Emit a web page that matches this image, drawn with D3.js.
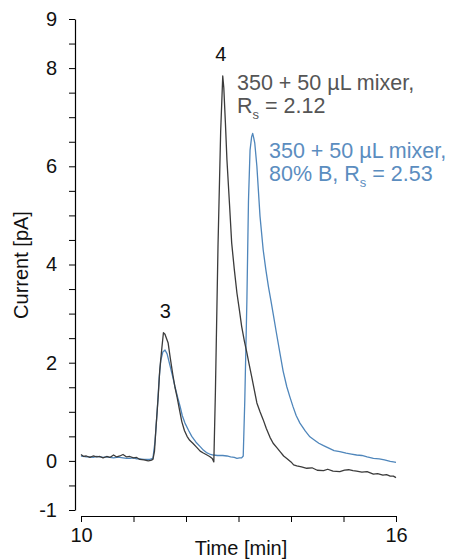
<!DOCTYPE html>
<html>
<head>
<meta charset="utf-8">
<script src="https://cdn.jsdelivr.net/npm/d3@7"></script>
<style>
  html, body { margin: 0; padding: 0; background: #fff; }
  svg { display: block; }
  text { font-family: "Liberation Sans", Arial, Helvetica, sans-serif; }
</style>
</head>
<body>
<svg id="chart" width="451" height="560"></svg>
<script>
// ---- data ----
const xTickValues = [10, 11, 12, 13, 14, 15, 16];
const xTickLabels = ["10", "", "", "", "", "", "16"];
const yTickValues = [-1, -0.5, 0, 0.5, 1, 1.5, 2, 2.5, 3, 3.5, 4, 4.5, 5, 5.5, 6, 6.5, 7, 7.5, 8, 8.5, 9];
const yLabelled = [-1, 0, 2, 4, 6, 8, 9];

const blackTime = [10.00, 10.05, 10.10, 10.17, 10.23, 10.30, 10.36, 10.42, 10.49, 10.55, 10.62, 10.68, 10.74, 10.80, 10.87, 10.93, 11.00, 11.06, 11.12, 11.20, 11.28, 11.33, 11.37, 11.40, 11.43, 11.47, 11.50, 11.54, 11.57, 11.60, 11.62, 11.66, 11.70, 11.75, 11.79, 11.83, 11.88, 11.92, 11.97, 12.02, 12.07, 12.13, 12.20, 12.27, 12.33, 12.40, 12.45, 12.50, 12.53, 12.56, 12.61, 12.66, 12.70, 12.72, 12.75, 12.78, 12.83, 12.87, 12.92, 12.97, 13.02, 13.06, 13.11, 13.16, 13.20, 13.25, 13.30, 13.35, 13.41, 13.47, 13.53, 13.60, 13.66, 13.73, 13.80, 13.86, 13.92, 14.00, 14.05, 14.11, 14.20, 14.30, 14.40, 14.50, 14.62, 14.70, 14.80, 14.93, 15.02, 15.10, 15.18, 15.25, 15.35, 15.45, 15.57, 15.65, 15.75, 15.82, 15.89, 15.95, 16.00];
const blackCurrent = [0.13, 0.09, 0.10, 0.07, 0.10, 0.08, 0.09, 0.06, 0.09, 0.07, 0.12, 0.08, 0.10, 0.13, 0.08, 0.09, 0.06, 0.07, 0.03, 0.02, 0.00, 0.01, 0.03, 0.20, 0.70, 1.30, 1.85, 2.30, 2.61, 2.58, 2.52, 2.40, 2.10, 1.75, 1.50, 1.30, 1.02, 0.80, 0.62, 0.50, 0.42, 0.36, 0.28, 0.20, 0.16, 0.12, 0.09, 0.05, -0.02, 1.40, 4.40, 6.70, 7.84, 7.60, 6.90, 6.13, 5.20, 4.44, 3.90, 3.42, 3.05, 2.74, 2.45, 2.20, 1.98, 1.72, 1.45, 1.18, 1.00, 0.84, 0.66, 0.48, 0.36, 0.27, 0.18, 0.10, 0.05, -0.02, -0.08, -0.10, -0.12, -0.15, -0.14, -0.19, -0.20, -0.17, -0.21, -0.22, -0.19, -0.18, -0.20, -0.21, -0.23, -0.22, -0.27, -0.26, -0.29, -0.28, -0.31, -0.31, -0.34];

const blueTime = [10.00, 10.05, 10.10, 10.17, 10.23, 10.30, 10.36, 10.42, 10.49, 10.55, 10.62, 10.68, 10.74, 10.80, 10.87, 10.93, 11.00, 11.06, 11.12, 11.20, 11.31, 11.37, 11.41, 11.45, 11.49, 11.52, 11.56, 11.60, 11.64, 11.70, 11.75, 11.79, 11.84, 11.89, 11.93, 11.98, 12.05, 12.11, 12.19, 12.27, 12.33, 12.39, 12.45, 12.52, 12.60, 12.70, 12.78, 12.85, 12.92, 12.97, 13.02, 13.06, 13.09, 13.12, 13.16, 13.19, 13.22, 13.25, 13.27, 13.29, 13.31, 13.35, 13.41, 13.47, 13.52, 13.57, 13.62, 13.66, 13.72, 13.79, 13.85, 13.92, 13.98, 14.04, 14.10, 14.17, 14.27, 14.36, 14.45, 14.53, 14.62, 14.72, 14.82, 14.93, 15.05, 15.15, 15.25, 15.35, 15.45, 15.57, 15.68, 15.78, 15.89, 15.95, 16.00];
const blueCurrent = [0.10, 0.09, 0.08, 0.08, 0.07, 0.09, 0.08, 0.07, 0.08, 0.07, 0.06, 0.07, 0.07, 0.06, 0.05, 0.05, 0.06, 0.04, 0.04, 0.03, 0.03, 0.05, 0.40, 1.00, 1.70, 2.05, 2.22, 2.26, 2.18, 1.92, 1.70, 1.51, 1.30, 1.10, 0.92, 0.77, 0.62, 0.50, 0.38, 0.29, 0.22, 0.17, 0.14, 0.12, 0.11, 0.11, 0.10, 0.08, 0.07, 0.05, 0.06, 0.06, 0.10, 1.24, 3.28, 5.30, 6.33, 6.60, 6.67, 6.58, 6.47, 6.00, 4.98, 4.30, 3.90, 3.55, 3.25, 3.00, 2.62, 2.19, 1.83, 1.51, 1.30, 1.10, 0.92, 0.77, 0.61, 0.49, 0.42, 0.36, 0.31, 0.26, 0.21, 0.19, 0.16, 0.14, 0.12, 0.11, 0.08, 0.05, 0.04, 0.02, -0.01, -0.02, -0.03];

const peakLabels = [{t: 11.57, v: 2.61, text: "3"}, {t: 12.70, v: 7.84, text: "4"}];

// ---- layout ----
const svg = d3.select("#chart");
const x = d3.scaleLinear().domain([10, 16]).range([81, 396]);
const y = d3.scaleLinear().domain([-1, 9]).range([510, 19]);

const blackColor = "#3b3b3b";
const blueColor = "#4f86bb";

// y axis
const yAxis = d3.axisLeft(y)
  .tickValues(yTickValues)
  .tickSize(6)
  .tickSizeOuter(0)
  .tickFormat(d => yLabelled.includes(d) ? String(d) : "");
const gy = svg.append("g").attr("transform", "translate(75,0)").call(yAxis);
gy.select(".domain").attr("stroke", "#000").attr("stroke-width", 1.2);
gy.selectAll(".tick line").attr("stroke", "#000").attr("stroke-width", 1);
gy.selectAll(".tick text").attr("x", -18).attr("font-size", 20).attr("fill", "#111")
  .style("font-family", "'Liberation Sans', Arial, sans-serif");

// x axis
const xAxis = d3.axisBottom(x)
  .tickValues(xTickValues)
  .tickSize(6)
  .tickSizeOuter(0)
  .tickFormat((d, i) => xTickLabels[i]);
const gx = svg.append("g").attr("transform", "translate(0,516)").call(xAxis);
gx.select(".domain").attr("stroke", "#000").attr("stroke-width", 1.2);
gx.selectAll(".tick line").attr("stroke", "#000").attr("stroke-width", 1);
gx.selectAll(".tick text").attr("y", 12).attr("font-size", 20).attr("fill", "#111")
  .style("font-family", "'Liberation Sans', Arial, sans-serif");

// axis titles
svg.append("text")
  .attr("transform", "translate(28,265) rotate(-90)")
  .attr("text-anchor", "middle")
  .attr("font-size", 20)
  .attr("fill", "#111")
  .text("Current [pA]");
svg.append("text")
  .attr("x", 241).attr("y", 555)
  .attr("text-anchor", "middle")
  .attr("font-size", 20)
  .attr("fill", "#111")
  .text("Time [min]");

// lines
const line = d3.line().x(d => x(d[0])).y(d => y(d[1]));
svg.append("path")
  .datum(blueTime.map((t, i) => [t, blueCurrent[i]]))
  .attr("d", line).attr("fill", "none")
  .attr("stroke", blueColor).attr("stroke-width", 1.3).attr("stroke-linejoin", "round");
svg.append("path")
  .datum(blackTime.map((t, i) => [t, blackCurrent[i]]))
  .attr("d", line).attr("fill", "none")
  .attr("stroke", blackColor).attr("stroke-width", 1.3).attr("stroke-linejoin", "round");

// peak labels
svg.selectAll("text.peak").data(peakLabels).enter().append("text")
  .attr("class", "peak")
  .attr("x", d => x(d.t) - (d.text === "4" ? 2 : -2))
  .attr("y", d => y(d.v) - 15)
  .attr("text-anchor", "middle")
  .attr("font-size", 20)
  .attr("fill", "#111")
  .text(d => d.text);

// annotations
function annot(x0, y0, lines, color) {
  const g = svg.append("g").attr("fill", color)
    .style("font-family", "Roboto, 'Liberation Sans', sans-serif")
    .attr("font-weight", 500).attr("font-size", 21.5);
  lines.forEach((ln, i) => {
    const t = g.append("text").attr("x", x0).attr("y", y0 + i * 23);
    ln.forEach(seg => {
      const ts = t.append("tspan").text(seg.s);
      if (seg.sub) ts.attr("font-size", 13).attr("dy", 6);
      if (seg.back) ts.attr("dy", -6);
    });
  });
}
annot(237, 90, [
  [{s: "350 + 50 µL mixer,"}],
  [{s: "R"}, {s: "s", sub: true}, {s: " = 2.12", back: true}]
], "#555555");
annot(269, 158, [
  [{s: "350 + 50 µL mixer,"}],
  [{s: "80% B, R"}, {s: "s", sub: true}, {s: " = 2.53", back: true}]
], "#5b8dbf");
</script>
</body>
</html>
